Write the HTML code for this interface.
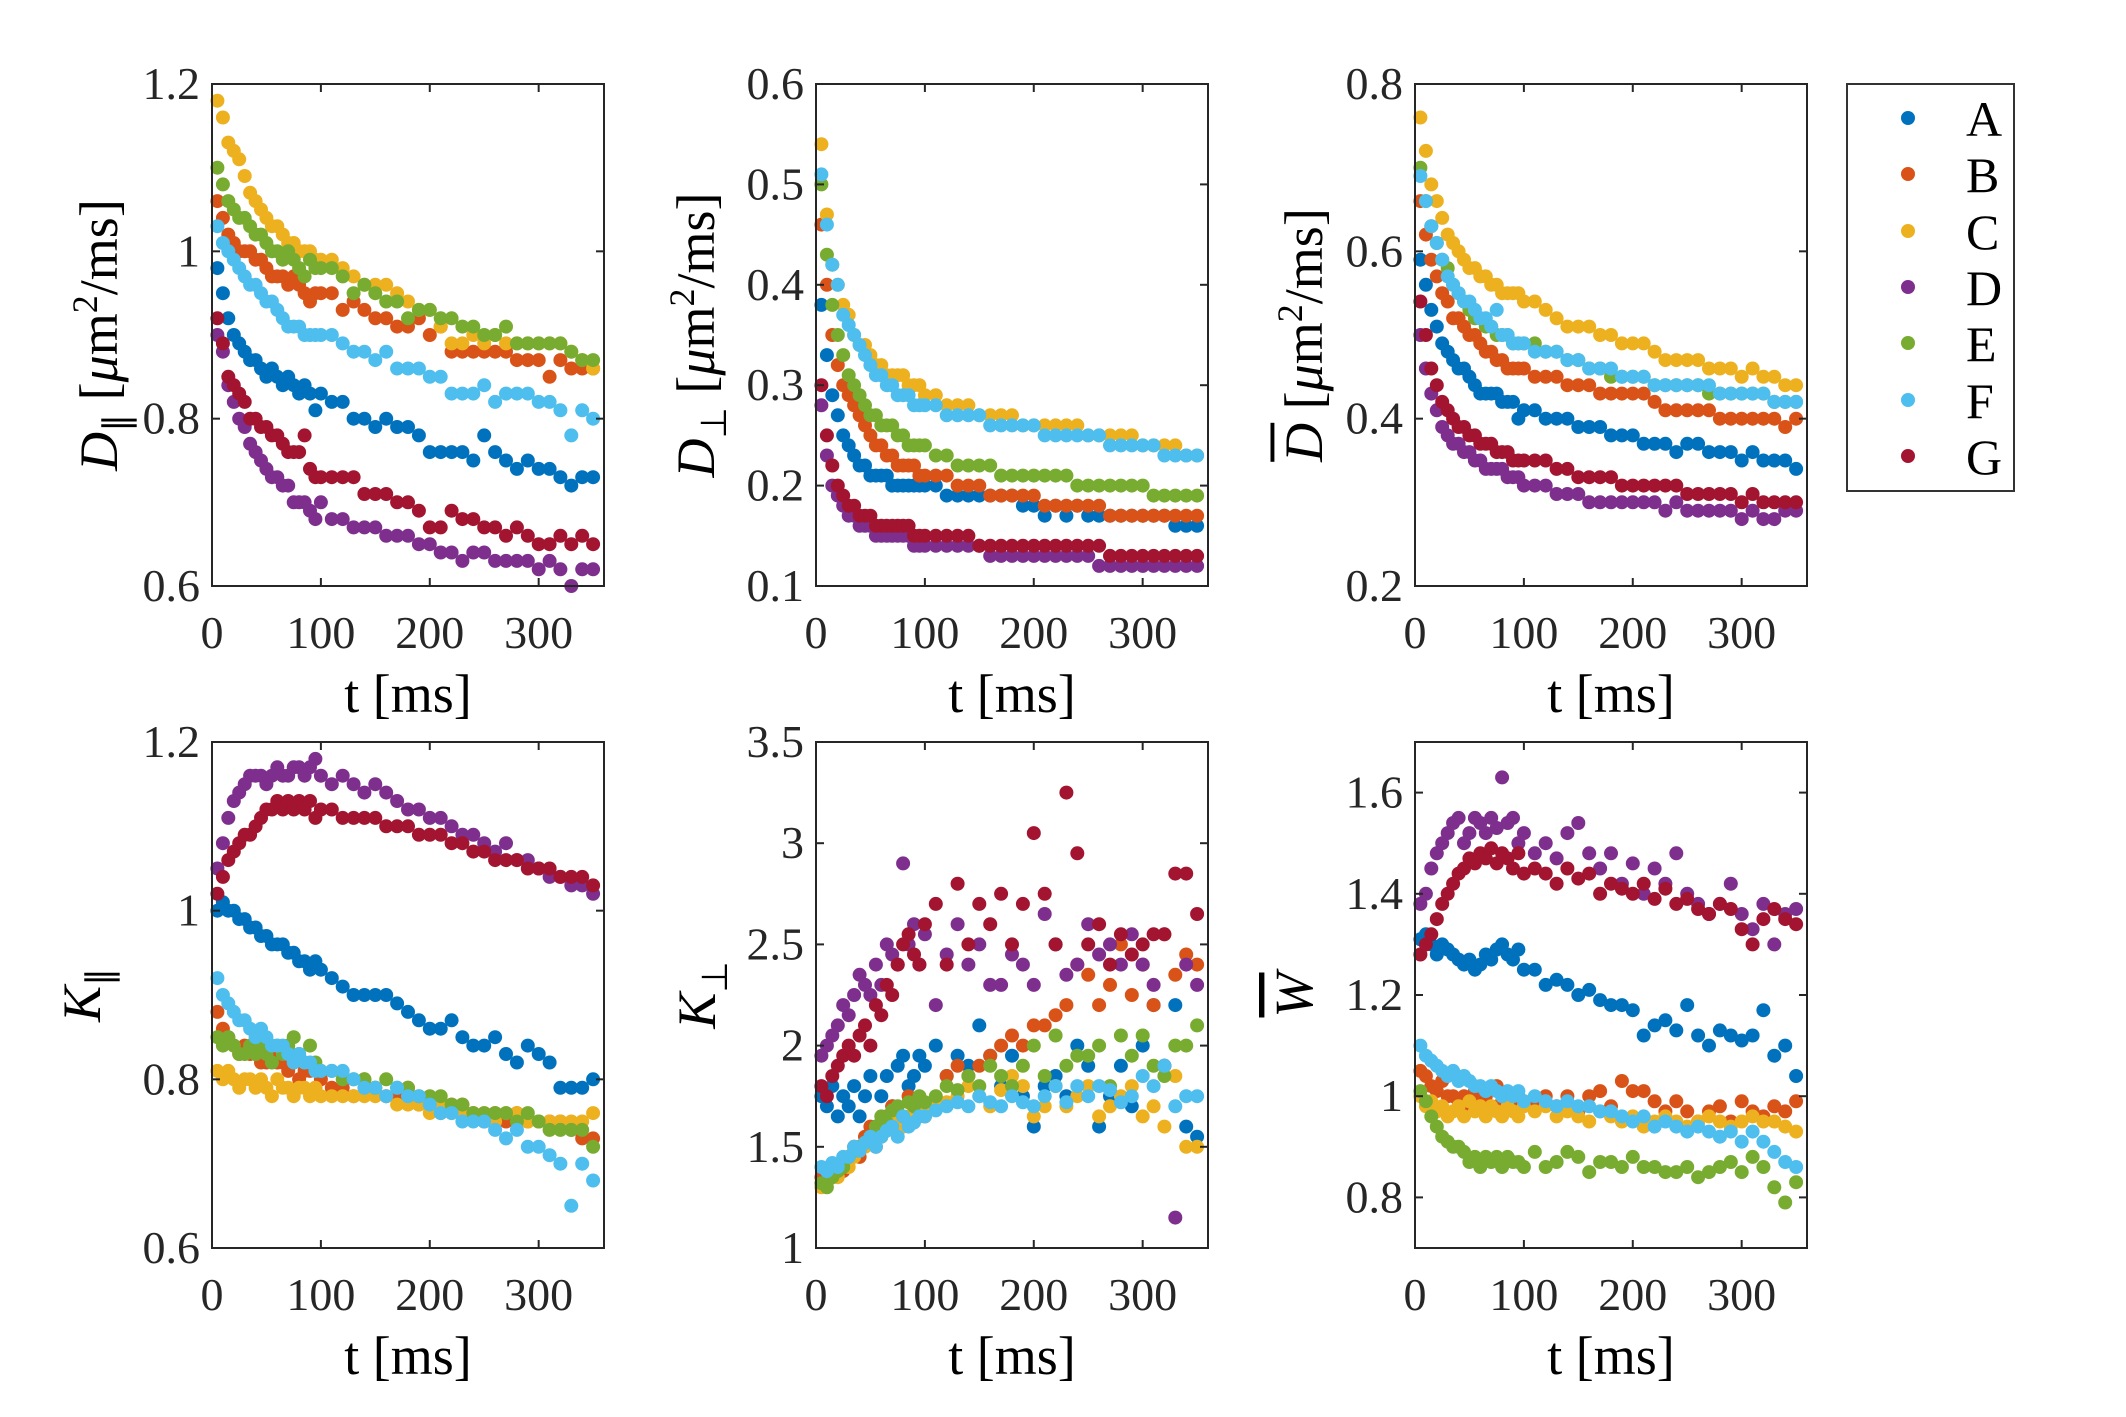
<!DOCTYPE html>
<html><head><meta charset="utf-8">
<style>
html,body{margin:0;padding:0;background:#fff;}
svg{display:block;font-family:"Liberation Serif",serif;}
</style></head>
<body>
<svg id="fig" width="2126" height="1417" viewBox="0 0 2126 1417" xmlns="http://www.w3.org/2000/svg">
<rect x="0" y="0" width="2126" height="1417" fill="#fff"/>
<g id="legend">
<rect x="1847" y="84" width="167" height="407" fill="#fff" stroke="#333" stroke-width="2"/>
</g>
</svg>
<script>
const times = [5,10,15,20,25,30,35,40,45,50,55,60,65,70,75,80,85,90,95,100,110,120,130,140,150,160,170,180,190,200,210,220,230,240,250,260,270,280,290,300,310,320,330,340,350];
const seriesNames = ["A","B","C","D","E","F","G"];
const seriesColors = ["#0072BD","#D95319","#EDB120","#7E2F8E","#77AC30","#4DBEEE","#A2142F"];

const dParA = [0.98,0.95,0.92,0.90,0.89,0.88,0.87,0.87,0.86,0.85,0.86,0.85,0.84,0.85,0.84,0.83,0.84,0.83,0.81,0.83,0.82,0.82,0.80,0.80,0.79,0.80,0.79,0.79,0.78,0.76,0.76,0.76,0.76,0.75,0.78,0.76,0.75,0.74,0.75,0.74,0.74,0.73,0.72,0.73,0.73];
const dParB = [1.06,1.04,1.02,1.01,1.00,1.00,1.00,0.99,0.99,0.98,0.97,0.97,0.97,0.96,0.97,0.96,0.95,0.94,0.95,0.95,0.95,0.93,0.94,0.93,0.92,0.92,0.91,0.91,0.92,0.90,0.91,0.88,0.88,0.88,0.88,0.88,0.88,0.87,0.87,0.87,0.85,0.87,0.86,0.86,0.86];
const dParC = [1.18,1.16,1.13,1.12,1.11,1.09,1.07,1.06,1.05,1.04,1.03,1.03,1.02,1.01,1.01,1.00,1.00,1.00,0.99,0.99,0.99,0.98,0.97,0.96,0.96,0.96,0.95,0.94,0.93,0.93,0.91,0.89,0.89,0.90,0.89,0.90,0.89,0.89,0.89,0.89,0.89,0.89,0.88,0.87,0.86];
const dParD = [0.90,0.88,0.84,0.82,0.80,0.79,0.77,0.76,0.75,0.74,0.73,0.73,0.72,0.72,0.70,0.70,0.70,0.69,0.68,0.70,0.68,0.68,0.67,0.67,0.67,0.66,0.66,0.66,0.65,0.65,0.64,0.64,0.63,0.64,0.64,0.63,0.63,0.63,0.63,0.62,0.63,0.62,0.60,0.62,0.62];
const dParE = [1.10,1.08,1.06,1.05,1.04,1.04,1.03,1.02,1.02,1.01,1.00,1.00,0.99,1.00,0.99,0.98,0.97,0.99,0.98,0.98,0.98,0.97,0.95,0.96,0.95,0.94,0.94,0.92,0.93,0.93,0.92,0.92,0.91,0.91,0.90,0.90,0.91,0.89,0.89,0.89,0.89,0.89,0.88,0.87,0.87];
const dParF = [1.03,1.01,1.00,0.99,0.98,0.97,0.96,0.96,0.95,0.94,0.94,0.93,0.92,0.91,0.91,0.91,0.90,0.90,0.90,0.90,0.90,0.89,0.88,0.88,0.87,0.88,0.86,0.86,0.86,0.85,0.85,0.83,0.83,0.83,0.84,0.82,0.83,0.83,0.83,0.82,0.82,0.81,0.78,0.81,0.80];
const dParG = [0.92,0.89,0.85,0.84,0.83,0.82,0.80,0.80,0.79,0.79,0.78,0.78,0.77,0.76,0.76,0.76,0.78,0.74,0.73,0.73,0.73,0.73,0.73,0.71,0.71,0.71,0.70,0.70,0.69,0.67,0.67,0.69,0.68,0.68,0.67,0.67,0.66,0.67,0.66,0.65,0.65,0.66,0.65,0.66,0.65];

const dPerpA = [0.38,0.33,0.29,0.27,0.25,0.24,0.23,0.22,0.22,0.21,0.21,0.21,0.21,0.20,0.20,0.20,0.20,0.20,0.20,0.20,0.20,0.19,0.19,0.19,0.19,0.19,0.19,0.19,0.18,0.18,0.17,0.18,0.17,0.18,0.17,0.17,0.17,0.17,0.17,0.17,0.17,0.17,0.16,0.16,0.16];
const dPerpB = [0.46,0.40,0.35,0.32,0.30,0.29,0.28,0.27,0.26,0.25,0.24,0.24,0.23,0.23,0.22,0.22,0.22,0.22,0.21,0.21,0.21,0.21,0.20,0.20,0.20,0.19,0.19,0.19,0.19,0.19,0.18,0.18,0.18,0.18,0.18,0.18,0.17,0.17,0.17,0.17,0.17,0.17,0.17,0.17,0.17];
const dPerpC = [0.54,0.47,0.42,0.40,0.38,0.37,0.35,0.34,0.34,0.33,0.32,0.32,0.31,0.31,0.31,0.31,0.30,0.30,0.30,0.29,0.29,0.28,0.28,0.28,0.27,0.27,0.27,0.27,0.26,0.26,0.26,0.26,0.26,0.26,0.25,0.25,0.25,0.25,0.25,0.24,0.24,0.24,0.24,0.23,0.23];
const dPerpD = [0.28,0.23,0.20,0.19,0.18,0.17,0.17,0.16,0.16,0.16,0.15,0.15,0.15,0.15,0.15,0.15,0.15,0.14,0.14,0.14,0.14,0.14,0.14,0.14,0.14,0.13,0.13,0.13,0.13,0.13,0.13,0.13,0.13,0.13,0.13,0.12,0.12,0.12,0.12,0.12,0.12,0.12,0.12,0.12,0.12];
const dPerpE = [0.50,0.43,0.38,0.35,0.33,0.31,0.30,0.29,0.28,0.27,0.27,0.26,0.26,0.26,0.25,0.25,0.24,0.24,0.24,0.24,0.23,0.23,0.22,0.22,0.22,0.22,0.21,0.21,0.21,0.21,0.21,0.21,0.21,0.20,0.20,0.20,0.20,0.20,0.20,0.20,0.19,0.19,0.19,0.19,0.19];
const dPerpF = [0.51,0.46,0.42,0.40,0.37,0.36,0.35,0.34,0.33,0.32,0.31,0.31,0.30,0.30,0.29,0.29,0.29,0.28,0.28,0.28,0.28,0.27,0.27,0.27,0.27,0.26,0.26,0.26,0.26,0.26,0.25,0.25,0.25,0.25,0.25,0.25,0.24,0.24,0.24,0.24,0.24,0.23,0.23,0.23,0.23];
const dPerpG = [0.30,0.25,0.22,0.20,0.19,0.18,0.18,0.17,0.17,0.17,0.16,0.16,0.16,0.16,0.16,0.16,0.16,0.15,0.15,0.15,0.15,0.15,0.15,0.15,0.14,0.14,0.14,0.14,0.14,0.14,0.14,0.14,0.14,0.14,0.14,0.14,0.13,0.13,0.13,0.13,0.13,0.13,0.13,0.13,0.13];

const dMeanA = [0.59,0.56,0.53,0.51,0.49,0.48,0.47,0.46,0.46,0.45,0.44,0.43,0.43,0.43,0.43,0.42,0.42,0.42,0.40,0.41,0.41,0.40,0.40,0.40,0.39,0.39,0.39,0.38,0.38,0.38,0.37,0.37,0.37,0.36,0.37,0.37,0.36,0.36,0.36,0.35,0.36,0.35,0.35,0.35,0.34];
const dMeanB = [0.66,0.62,0.59,0.57,0.55,0.54,0.52,0.52,0.51,0.50,0.50,0.49,0.48,0.48,0.47,0.47,0.46,0.46,0.46,0.46,0.45,0.45,0.45,0.44,0.44,0.44,0.43,0.43,0.43,0.43,0.43,0.42,0.41,0.41,0.41,0.41,0.41,0.40,0.40,0.40,0.40,0.40,0.40,0.39,0.40];
const dMeanC = [0.76,0.72,0.68,0.66,0.64,0.62,0.61,0.60,0.59,0.58,0.58,0.57,0.57,0.56,0.56,0.55,0.55,0.55,0.55,0.54,0.54,0.53,0.52,0.51,0.51,0.51,0.50,0.50,0.49,0.49,0.49,0.48,0.47,0.47,0.47,0.47,0.46,0.46,0.46,0.45,0.46,0.45,0.45,0.44,0.44];
const dMeanD = [0.50,0.46,0.43,0.41,0.39,0.38,0.37,0.37,0.36,0.36,0.35,0.35,0.34,0.34,0.34,0.34,0.33,0.33,0.33,0.32,0.32,0.32,0.31,0.31,0.31,0.30,0.30,0.30,0.30,0.30,0.30,0.30,0.29,0.30,0.29,0.29,0.29,0.29,0.29,0.28,0.29,0.28,0.28,0.29,0.29];
const dMeanE = [0.70,0.66,0.63,0.61,0.59,0.58,0.56,0.55,0.54,0.53,0.52,0.52,0.51,0.51,0.50,0.50,0.50,0.49,0.49,0.49,0.49,0.48,0.48,0.47,0.47,0.46,0.46,0.45,0.45,0.45,0.45,0.44,0.44,0.44,0.44,0.44,0.43,0.43,0.43,0.43,0.43,0.43,0.42,0.42,0.42];
const dMeanF = [0.69,0.66,0.63,0.61,0.59,0.57,0.56,0.55,0.54,0.54,0.53,0.52,0.52,0.51,0.53,0.50,0.50,0.49,0.49,0.49,0.48,0.48,0.48,0.47,0.47,0.46,0.46,0.46,0.45,0.45,0.45,0.44,0.44,0.44,0.44,0.44,0.44,0.43,0.43,0.43,0.43,0.43,0.42,0.42,0.42];
const dMeanG = [0.54,0.50,0.46,0.44,0.42,0.41,0.40,0.39,0.39,0.38,0.38,0.37,0.37,0.37,0.36,0.36,0.36,0.35,0.35,0.35,0.35,0.35,0.34,0.34,0.33,0.33,0.33,0.33,0.32,0.32,0.32,0.32,0.32,0.32,0.31,0.31,0.31,0.31,0.31,0.30,0.31,0.30,0.30,0.30,0.30];

const kParA = [1.00,1.01,1.00,1.00,0.99,0.99,0.98,0.98,0.97,0.97,0.96,0.96,0.96,0.95,0.95,0.94,0.94,0.93,0.94,0.93,0.92,0.91,0.90,0.90,0.90,0.90,0.89,0.88,0.87,0.86,0.86,0.87,0.85,0.84,0.84,0.85,0.83,0.82,0.84,0.83,0.82,0.79,0.79,0.79,0.80];
const kParB = [0.88,0.86,0.85,0.84,0.83,0.84,0.83,0.83,0.82,0.82,0.83,0.82,0.82,0.81,0.82,0.80,0.81,0.81,0.79,0.80,0.79,0.79,0.78,0.80,0.79,0.78,0.78,0.79,0.77,0.77,0.76,0.77,0.77,0.76,0.75,0.76,0.75,0.76,0.75,0.75,0.75,0.75,0.74,0.73,0.73];
const kParC = [0.81,0.80,0.81,0.80,0.79,0.80,0.80,0.79,0.80,0.79,0.78,0.80,0.79,0.79,0.78,0.79,0.79,0.78,0.79,0.78,0.78,0.78,0.78,0.78,0.78,0.78,0.77,0.77,0.77,0.76,0.77,0.76,0.76,0.76,0.76,0.75,0.76,0.76,0.75,0.75,0.75,0.75,0.75,0.75,0.76];
const kParD = [1.05,1.08,1.11,1.13,1.14,1.15,1.16,1.16,1.16,1.15,1.16,1.17,1.16,1.16,1.17,1.17,1.16,1.17,1.18,1.16,1.15,1.16,1.15,1.14,1.15,1.14,1.13,1.12,1.12,1.11,1.11,1.10,1.09,1.09,1.08,1.07,1.08,1.06,1.06,1.05,1.04,1.04,1.03,1.03,1.02];
const kParE = [0.85,0.84,0.85,0.84,0.83,0.83,0.84,0.83,0.84,0.83,0.82,0.84,0.83,0.84,0.85,0.83,0.82,0.84,0.82,0.81,0.81,0.80,0.80,0.80,0.79,0.80,0.79,0.79,0.78,0.78,0.78,0.77,0.77,0.76,0.76,0.76,0.76,0.75,0.76,0.75,0.74,0.74,0.74,0.74,0.72];
const kParF = [0.92,0.90,0.89,0.88,0.87,0.87,0.86,0.85,0.86,0.85,0.84,0.84,0.84,0.83,0.82,0.83,0.82,0.82,0.81,0.81,0.81,0.81,0.80,0.79,0.79,0.78,0.79,0.78,0.78,0.77,0.76,0.76,0.75,0.75,0.75,0.74,0.73,0.74,0.72,0.72,0.71,0.70,0.65,0.70,0.68];
const kParG = [1.02,1.04,1.06,1.07,1.08,1.09,1.09,1.10,1.11,1.12,1.12,1.13,1.12,1.13,1.12,1.13,1.12,1.13,1.11,1.12,1.12,1.11,1.11,1.11,1.11,1.10,1.10,1.10,1.09,1.09,1.09,1.08,1.08,1.07,1.07,1.06,1.06,1.06,1.05,1.05,1.05,1.04,1.04,1.04,1.03];

const kPerpA = [1.75,1.70,1.80,1.65,1.75,1.70,1.80,1.65,1.75,1.85,1.60,1.75,1.85,1.70,1.90,1.95,1.80,1.85,1.95,1.90,2.00,1.85,1.95,1.90,2.10,1.95,1.80,1.95,1.75,1.60,1.80,1.85,1.75,2.00,1.90,1.60,1.75,1.90,1.70,2.00,2.20,1.90,2.20,1.60,1.55];
const kPerpB = [1.35,1.33,1.35,1.40,1.38,1.45,1.50,1.45,1.55,1.60,1.50,1.55,1.65,1.70,1.65,1.60,1.75,1.70,1.70,1.65,1.70,1.85,1.90,1.85,1.90,1.95,2.00,2.05,2.00,2.10,2.10,2.15,2.20,2.40,2.35,2.20,2.30,2.50,2.25,2.40,2.20,2.55,2.35,2.45,2.40];
const kPerpC = [1.30,1.32,1.38,1.35,1.42,1.40,1.45,1.48,1.50,1.52,1.55,1.55,1.60,1.62,1.65,1.60,1.65,1.68,1.70,1.70,1.72,1.72,1.75,1.80,1.75,1.70,1.78,1.85,1.80,1.65,1.70,1.80,1.70,1.75,1.80,1.65,1.70,1.75,1.80,1.65,1.70,1.60,1.85,1.50,1.50];
const kPerpD = [1.95,2.00,2.05,2.10,2.20,2.15,2.25,2.35,2.30,2.25,2.40,2.30,2.50,2.45,2.40,2.90,2.50,2.60,2.40,2.55,2.20,2.45,2.60,2.40,2.50,2.30,2.30,2.45,2.40,2.30,2.65,2.50,2.35,2.40,2.60,2.45,2.50,2.40,2.55,2.40,2.30,1.90,1.15,2.40,2.30];
const kPerpE = [1.32,1.30,1.35,1.38,1.40,1.45,1.48,1.50,1.52,1.55,1.60,1.65,1.62,1.68,1.70,1.65,1.72,1.70,1.75,1.72,1.75,1.80,1.78,1.85,1.80,1.90,1.85,1.80,1.90,2.00,1.85,2.05,1.90,1.95,1.95,2.00,1.80,2.05,1.95,2.05,1.90,1.85,2.00,2.00,2.10];
const kPerpF = [1.40,1.38,1.42,1.40,1.45,1.45,1.50,1.48,1.52,1.55,1.50,1.55,1.58,1.60,1.55,1.65,1.60,1.62,1.65,1.65,1.68,1.70,1.72,1.70,1.75,1.72,1.70,1.75,1.72,1.70,1.75,1.80,1.72,1.80,1.75,1.80,1.78,1.72,1.75,1.85,1.80,1.90,1.70,1.75,1.75];
const kPerpG = [1.80,1.75,1.85,1.90,1.95,2.00,1.95,2.05,2.10,2.00,2.20,2.15,2.30,2.25,2.40,2.50,2.55,2.45,2.40,2.60,2.70,2.40,2.80,2.50,2.70,2.60,2.75,2.50,2.70,3.05,2.75,2.50,3.25,2.95,2.50,2.60,2.40,2.55,2.45,2.50,2.55,2.55,2.85,2.85,2.65];

const wMeanA = [1.31,1.32,1.30,1.28,1.30,1.29,1.28,1.27,1.26,1.27,1.25,1.26,1.28,1.27,1.29,1.30,1.28,1.27,1.29,1.25,1.25,1.22,1.23,1.22,1.20,1.21,1.19,1.18,1.18,1.17,1.12,1.14,1.15,1.13,1.18,1.12,1.10,1.13,1.12,1.11,1.12,1.17,1.08,1.10,1.04];
const wMeanB = [1.05,1.04,1.02,1.01,1.03,1.00,1.00,0.99,1.00,0.98,1.01,0.99,1.00,0.98,1.02,0.99,0.98,0.98,1.00,0.99,0.98,1.00,0.98,1.00,0.97,1.00,1.01,0.98,1.03,1.01,1.01,0.99,0.97,0.99,0.97,0.95,0.97,0.98,0.95,0.99,0.97,0.96,0.98,0.97,0.99];
const wMeanC = [1.00,0.98,0.99,0.97,0.98,0.96,0.97,0.98,0.96,0.99,0.97,0.98,0.96,0.98,0.97,0.96,0.98,0.97,0.96,0.98,0.97,0.98,0.96,0.97,0.96,0.95,0.97,0.96,0.95,0.96,0.94,0.95,0.96,0.95,0.94,0.95,0.96,0.95,0.94,0.95,0.96,0.95,0.95,0.94,0.93];
const wMeanD = [1.38,1.40,1.45,1.48,1.50,1.52,1.54,1.55,1.50,1.52,1.55,1.54,1.52,1.55,1.53,1.63,1.54,1.55,1.50,1.52,1.48,1.50,1.47,1.52,1.54,1.48,1.45,1.48,1.42,1.46,1.40,1.45,1.42,1.48,1.40,1.38,1.36,1.38,1.42,1.36,1.33,1.38,1.30,1.36,1.37];
const wMeanE = [1.01,0.99,0.96,0.94,0.92,0.91,0.90,0.90,0.89,0.87,0.88,0.86,0.88,0.87,0.88,0.86,0.88,0.87,0.87,0.86,0.89,0.86,0.87,0.89,0.88,0.85,0.87,0.87,0.86,0.88,0.86,0.86,0.85,0.85,0.86,0.84,0.85,0.86,0.87,0.85,0.88,0.86,0.82,0.79,0.83];
const wMeanF = [1.10,1.08,1.07,1.06,1.05,1.04,1.05,1.03,1.04,1.03,1.02,1.02,1.01,1.02,1.01,1.00,1.01,1.00,1.01,0.99,1.00,0.99,0.98,0.99,0.98,0.98,0.97,0.97,0.96,0.95,0.96,0.94,0.95,0.94,0.93,0.94,0.93,0.92,0.93,0.91,0.93,0.91,0.89,0.87,0.86];
const wMeanG = [1.28,1.30,1.32,1.35,1.38,1.40,1.42,1.44,1.45,1.47,1.46,1.48,1.47,1.49,1.46,1.48,1.47,1.45,1.48,1.44,1.45,1.44,1.42,1.45,1.43,1.44,1.40,1.42,1.41,1.40,1.42,1.39,1.41,1.38,1.39,1.37,1.36,1.38,1.37,1.33,1.30,1.35,1.37,1.35,1.34];

const xTickValues = [0,100,200,300];
const yTicksP1 = [0.6,0.8,1,1.2];
const yTicksP2 = [0.1,0.2,0.3,0.4,0.5,0.6];
const yTicksP3 = [0.2,0.4,0.6,0.8];
const yTicksP4 = [0.6,0.8,1,1.2];
const yTicksP5 = [1,1.5,2,2.5,3,3.5];
const yTicksP6 = [0.8,1,1.2,1.4,1.6];

const NS = "http://www.w3.org/2000/svg";
const svg = document.getElementById('fig');
function mk(tag, attrs, parent){
  const e = document.createElementNS(NS, tag);
  for (const k in attrs) e.setAttribute(k, attrs[k]);
  (parent||svg).appendChild(e);
  return e;
}
const XMAX = 360;
const panels = [
  {id:'d-par', x0:212, x1:604, y0:84, y1:586, ymin:0.6, ymax:1.2, ticks:yTicksP1, data:[dParA,dParB,dParC,dParD,dParE,dParF,dParG], lx:117, label:'<tspan font-style="italic">D</tspan><tspan font-size="36" dy="12">∥</tspan><tspan dy="-12"> [</tspan><tspan font-style="italic">μ</tspan>m<tspan font-size="36" dy="-20">2</tspan><tspan dy="20">/ms]</tspan>'},
  {id:'d-perp', x0:816, x1:1208, y0:84, y1:586, ymin:0.1, ymax:0.6, ticks:yTicksP2, data:[dPerpA,dPerpB,dPerpC,dPerpD,dPerpE,dPerpF,dPerpG], lx:714, label:'<tspan font-style="italic">D</tspan><tspan font-size="36" dy="12">⊥</tspan><tspan dy="-12"> [</tspan><tspan font-style="italic">μ</tspan>m<tspan font-size="36" dy="-20">2</tspan><tspan dy="20">/ms]</tspan>'},
  {id:'d-mean', x0:1415, x1:1807, y0:84, y1:586, ymin:0.2, ymax:0.8, ticks:yTicksP3, data:[dMeanA,dMeanB,dMeanC,dMeanD,dMeanE,dMeanF,dMeanG], lx:1322, label:'<tspan font-style="italic" text-decoration="overline">D</tspan> [<tspan font-style="italic">μ</tspan>m<tspan font-size="36" dy="-20">2</tspan><tspan dy="20">/ms]</tspan>'},
  {id:'k-par', x0:212, x1:604, y0:742, y1:1248, ymin:0.6, ymax:1.2, ticks:yTicksP4, data:[kParA,kParB,kParC,kParD,kParE,kParF,kParG], lx:100, label:'<tspan font-style="italic">K</tspan><tspan font-size="36" dy="12">∥</tspan>'},
  {id:'k-perp', x0:816, x1:1208, y0:742, y1:1248, ymin:1, ymax:3.5, ticks:yTicksP5, data:[kPerpA,kPerpB,kPerpC,kPerpD,kPerpE,kPerpF,kPerpG], lx:715, label:'<tspan font-style="italic">K</tspan><tspan font-size="36" dy="12">⊥</tspan>'},
  {id:'w-mean', x0:1415, x1:1807, y0:742, y1:1248, ymin:0.7, ymax:1.7, ticks:yTicksP6, data:[wMeanA,wMeanB,wMeanC,wMeanD,wMeanE,wMeanF,wMeanG], lx:1312, label:'<tspan font-style="italic" text-decoration="overline">W</tspan>'}
];

panels.forEach(p=>{
  const g = mk('g', {});
  
  
  const xs = v => p.x0 + (v/XMAX)*(p.x1-p.x0);
  const ys = v => p.y1 - (v-p.ymin)/(p.ymax-p.ymin)*(p.y1-p.y0);
  mk('rect', {x:p.x0,y:p.y0,width:p.x1-p.x0,height:p.y1-p.y0,fill:'#fff'}, g);
  p.data.forEach((arr, si)=>{
    const sg = mk('g', {fill:seriesColors[si]}, g);
    
    
    arr.forEach((v,i)=>{
      const c = mk('circle', {cx:xs(times[i]).toFixed(1), cy:ys(v).toFixed(1), r:7}, sg);
      
      
    });
  });
  mk('rect', {x:p.x0,y:p.y0,width:p.x1-p.x0,height:p.y1-p.y0,fill:'none',stroke:'#262626','stroke-width':2}, g);
  const xt = mk('g', {}, g);
  
  
  xTickValues.forEach(v=>{
    const x = xs(v);
    mk('line', {x1:x,x2:x,y1:p.y1,y2:p.y1-8,stroke:'#262626','stroke-width':2}, xt);
    mk('line', {x1:x,x2:x,y1:p.y0,y2:p.y0+8,stroke:'#262626','stroke-width':2}, xt);
    const t = mk('text', {x:x,y:p.y1+62,'text-anchor':'middle','font-size':46,fill:'#262626'}, xt);
    t.textContent = String(v);
  });
  const xl = mk('text', {x:(p.x0+p.x1)/2,y:p.y1+126,'text-anchor':'middle','font-size':54,fill:'#000'}, g);
  
  
  xl.textContent = 't  [ms]';
  const yt = mk('g', {}, g);
  
  
  p.ticks.forEach(v=>{
    const y = ys(v);
    mk('line', {x1:p.x0,x2:p.x0+8,y1:y,y2:y,stroke:'#262626','stroke-width':2}, yt);
    mk('line', {x1:p.x1,x2:p.x1-8,y1:y,y2:y,stroke:'#262626','stroke-width':2}, yt);
    const t = mk('text', {x:p.x0-12,y:y+15,'text-anchor':'end','font-size':46,fill:'#262626'}, yt);
    t.textContent = String(v);
  });
  const yc = (p.y0+p.y1)/2;
  const yl = mk('text', {x:0,y:0,'text-anchor':'middle','font-size':54,fill:'#000',transform:`translate(${p.lx},${yc}) rotate(-90)`}, g);
  
  
  yl.innerHTML = p.label;
});

const lg = document.getElementById('legend');
const legendY = [118,174,231,287,343,400,456];
seriesNames.forEach((n,i)=>{
  const e = mk('g', {}, lg);
  
  
  mk('circle', {cx:1908, cy:legendY[i], r:7, fill:seriesColors[i]}, e);
  const t = mk('text', {x:1966, y:legendY[i]+18, 'font-size':50, fill:'#000'}, e);
  t.textContent = n;
});
</script>
</body></html>
